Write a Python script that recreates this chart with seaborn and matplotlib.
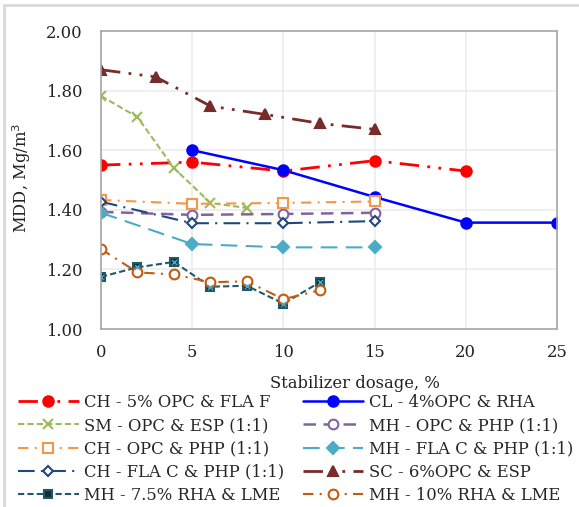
import matplotlib
matplotlib.use("Agg")
import matplotlib.pyplot as plt
from matplotlib.lines import Line2D
import seaborn as sns
import pandas as pd

# Maximum dry density (MDD) against stabilizer dosage for each soil/stabilizer mix
ch_fla_f_x = [0, 5, 10, 15, 20]
ch_fla_f_y = [1.55, 1.56, 1.53, 1.565, 1.53]

cl_rha_x = [5, 10, 15, 20, 25]
cl_rha_y = [1.60, 1.533, 1.443, 1.357, 1.357]

sm_esp_x = [0, 2, 4, 6, 8]
sm_esp_y = [1.782, 1.711, 1.54, 1.423, 1.406]

mh_opc_php_x = [0, 5, 10, 15]
mh_opc_php_y = [1.393, 1.383, 1.386, 1.39]

ch_opc_php_x = [0, 5, 10, 15]
ch_opc_php_y = [1.433, 1.42, 1.423, 1.428]

mh_flac_php_x = [0, 5, 10, 15]
mh_flac_php_y = [1.39, 1.285, 1.274, 1.274]

ch_flac_php_x = [0, 5, 10, 15]
ch_flac_php_y = [1.427, 1.355, 1.355, 1.362]

sc_esp_x = [0, 3, 6, 9, 12, 15]
sc_esp_y = [1.87, 1.846, 1.748, 1.72, 1.69, 1.67]

mh_rha75_x = [0, 2, 4, 6, 8, 10, 12]
mh_rha75_y = [1.175, 1.207, 1.225, 1.142, 1.145, 1.085, 1.157]

mh_rha10_x = [0, 2, 4, 6, 8, 10, 12]
mh_rha10_y = [1.268, 1.19, 1.183, 1.157, 1.16, 1.10, 1.13]

x_ticks = [0, 5, 10, 15, 20, 25]
y_ticks = [1.00, 1.20, 1.40, 1.60, 1.80, 2.00]

sns.set_theme(style="white")
plt.rcParams["font.family"] = ["DejaVu Serif"]

FS = 11.8

fig = plt.figure(figsize=(5.79, 5.07), dpi=100)
ax = fig.add_axes([101 / 579, 1 - 329 / 507, 456 / 579, 298 / 507])

# label, x, y, color, linestyle, linewidth, marker, markersize, facecolor
series = [
    ("CH - 5% OPC & FLA F", ch_fla_f_x, ch_fla_f_y, "#ff0000", (0, (7, 3, 1, 3, 1, 3)), 2.0, "o", 7.5, "#ff0000"),
    ("CL - 4%OPC & RHA", cl_rha_x, cl_rha_y, "#0000ff", "-", 1.8, "o", 7.5, "#0000ff"),
    ("SM - OPC & ESP (1:1)", sm_esp_x, sm_esp_y, "#9bbb59", (0, (3, 1.5)), 1.5, "x", 7, "#9bbb59"),
    ("MH - OPC & PHP (1:1)", mh_opc_php_x, mh_opc_php_y, "#8064a2", (0, (5, 3)), 1.8, "o", 7, "white"),
    ("CH - OPC & PHP (1:1)", ch_opc_php_x, ch_opc_php_y, "#f79646", (0, (5, 3, 1, 3)), 1.5, "s", 7.5, "white"),
    ("MH - FLA C & PHP (1:1)", mh_flac_php_x, mh_flac_php_y, "#4bacc6", (0, (8, 4)), 1.5, "D", 6, "#4bacc6"),
    ("CH - FLA C & PHP (1:1)", ch_flac_php_x, ch_flac_php_y, "#1f497d", (0, (8, 3, 1, 3)), 1.5, "D", 5, "white"),
    ("SC - 6%OPC & ESP", sc_esp_x, sc_esp_y, "#772c2a", (0, (7, 3, 1, 3, 1, 3)), 2.0, "^", 7.5, "#772c2a"),
    ("MH - 7.5% RHA & LME", mh_rha75_x, mh_rha75_y, "#215968", (0, (3, 1.5)), 1.5, "s", 6, "#0f2d36"),
    ("MH - 10% RHA & LME", mh_rha10_x, mh_rha10_y, "#c55a11", (0, (5, 3, 1, 3)), 1.5, "o", 7, "white"),
]

handles = {}
for label, xs, ys, color, ls, lw, mk, ms, fc in series:
    df = pd.DataFrame({"dosage": xs, "mdd": ys})
    sns.lineplot(data=df, x="dosage", y="mdd", ax=ax, color=color,
                 linestyle=ls, linewidth=lw, marker=mk, markersize=ms,
                 markerfacecolor=fc, markeredgecolor=color,
                 markeredgewidth=1.5, label=None, legend=False)
    handles[label] = Line2D([], [], color=color, linestyle=ls, linewidth=lw,
                            marker=mk, markersize=ms, markerfacecolor=fc,
                            markeredgecolor=color, markeredgewidth=1.5)

# cross inside the square markers of the 7.5% RHA series
df75 = pd.DataFrame({"dosage": mh_rha75_x, "mdd": mh_rha75_y})
sns.scatterplot(data=df75, x="dosage", y="mdd", ax=ax, marker="x", s=12,
                color="#4bacc6", linewidth=1.0, legend=False, zorder=5)

ax.set_xlim(0, 25)
ax.set_ylim(1.0, 2.0)
ax.set_xticks(x_ticks)
ax.set_yticks(y_ticks)
ax.set_yticklabels([f"{v:.2f}" for v in y_ticks])
ax.grid(True, color="#ececec", linewidth=1.2)
ax.set_axisbelow(True)
for s in ax.spines.values():
    s.set_color("#a6a6a6")
    s.set_linewidth(1.2)
ax.tick_params(axis="both", length=0, labelsize=FS, colors="#222222")
ax.tick_params(axis="y", pad=13)
ax.tick_params(axis="x", pad=11)
ax.set_xlabel("")
ax.set_ylabel("")

fig.text(355 / 579, 1 - 383 / 507, "Stabilizer dosage, %", ha="center",
         va="center", fontsize=FS, color="#222222")
fig.text(22 / 579, 1 - 178 / 507, "MDD, Mg/m$^3$", rotation=90, ha="center",
         va="center", fontsize=FS, color="#222222")

col1 = ["CH - 5% OPC & FLA F", "SM - OPC & ESP (1:1)", "CH - OPC & PHP (1:1)",
        "CH - FLA C & PHP (1:1)", "MH - 7.5% RHA & LME"]
col2 = ["CL - 4%OPC & RHA", "MH - OPC & PHP (1:1)", "MH - FLA C & PHP (1:1)",
        "SC - 6%OPC & ESP", "MH - 10% RHA & LME"]
labs = col1 + col2
fig.legend([handles[l] for l in labs], labs, ncol=2, loc="upper left",
           bbox_to_anchor=(18 / 579, 1 - 394 / 507), frameon=False,
           fontsize=FS, handlelength=3.7, handletextpad=0.35,
           columnspacing=1.1, labelspacing=0.38, borderpad=0, borderaxespad=0)

# outer frame edges
fig.add_artist(Line2D([4 / 579, 1], [1 - 5 / 507, 1 - 5 / 507],
                      transform=fig.transFigure, color="#d9d9d9", linewidth=2))
fig.add_artist(Line2D([4 / 579, 4 / 579], [0, 1 - 5 / 507],
                      transform=fig.transFigure, color="#d9d9d9", linewidth=2))

fig.savefig("out.png", dpi=100, facecolor="white")
